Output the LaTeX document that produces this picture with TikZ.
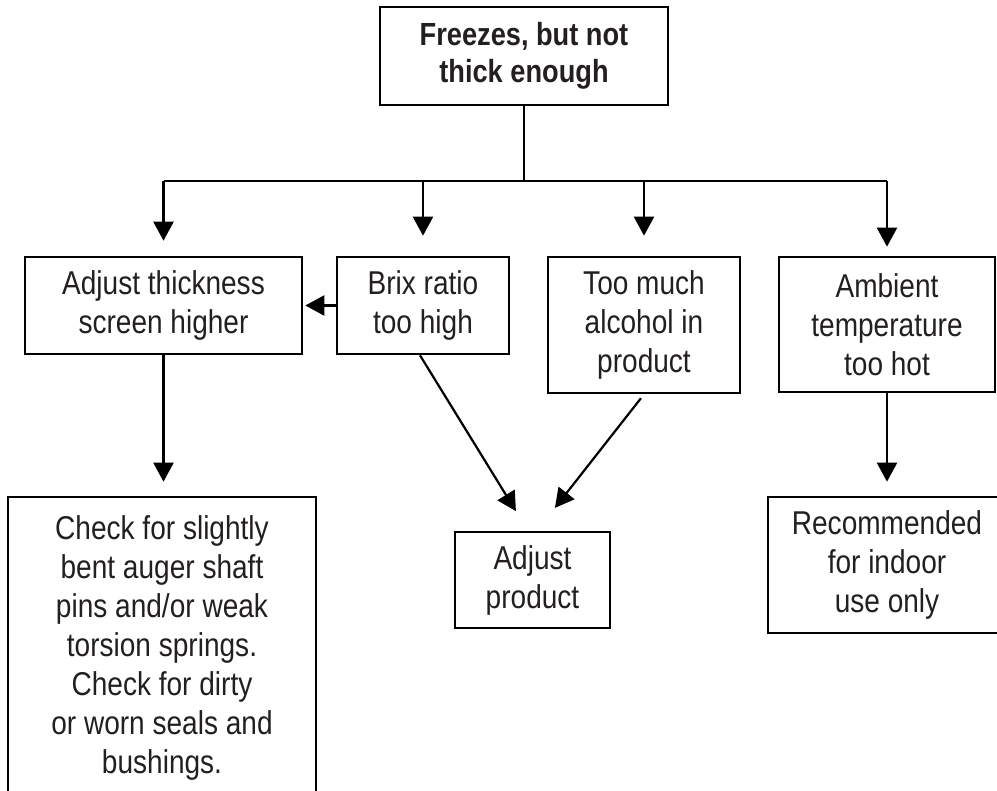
\documentclass[tikz,border=0pt]{standalone}
\usepackage{fontspec}
\setmainfont{Liberation Sans}[FakeStretch=0.85]
\usetikzlibrary{arrows.meta,calc}
\definecolor{ink}{RGB}{35,31,32}

\begin{document}
\begin{tikzpicture}
  [
    x=1pt, y=-1pt,
    box/.style={draw=black, line width=2.6pt, inner sep=0pt, align=center,
      text=ink, font=\fontsize{33}{39}\selectfont},
    link/.style={draw=black, line width=2.2pt},
    arr/.style={link, -{Triangle[width=20pt,length=19pt]}},
  ]

  \useasboundingbox (0,0) rectangle (997,791);
  \clip (0,0) rectangle (997,791);

  % top
  \node [box, minimum width=288pt, minimum height=98pt,
    font=\bfseries\fontsize{32}{37}\selectfont] (top) at (524,56)
    {Freezes, but not\\thick enough};

  % causes
  \node [box, minimum width=277pt, minimum height=97pt] (adjust) at (163.5,305.5)
    {Adjust thickness\\screen higher};
  \node [box, minimum width=172pt, minimum height=97pt] (brix) at (423,305.5)
    {Brix ratio\\too high};
  \node [box, minimum width=192pt, minimum height=136pt] (alcohol) at (644,325)
    {Too much\\alcohol in\\product};
  \node [box, minimum width=216pt, minimum height=135pt] (ambient) at (887,324.5)
    {Ambient\\temperature\\too hot};

  % remedies
  \node [box, minimum width=308pt, minimum height=302pt] (check) at (162,648)
    {Check for slightly\\bent auger shaft\\pins and/or weak\\torsion springs.\\Check for dirty\\or worn seals and\\bushings.};
  \node [box, minimum width=155pt, minimum height=96pt] (product) at (532.5,580)
    {Adjust\\product};
  \node [box, minimum width=238pt, minimum height=136pt] (indoor) at (887,565)
    {Recommended\\for indoor\\use only};

  % bus
  \coordinate (bus) at ($(top.south)+(0,75)$);
  \draw [link] (top.south) -- (bus);
  \draw [link] (adjust.north |- bus) -- (ambient.north |- bus);
  \draw [arr, shorten >=15pt] (adjust.north |- bus) -- (adjust.north);
  \draw [arr, shorten >=20pt] (brix.north |- bus) -- (brix.north);
  \draw [arr, shorten >=20pt] (alcohol.north |- bus) -- (alcohol.north);
  \draw [arr, shorten >=9pt] (ambient.north |- bus) -- (ambient.north);

  % links
  \draw [arr, shorten >=2pt] (brix.west) -- (adjust.east);
  \draw [arr, shorten >=14pt] (adjust.south) -- (adjust.south |- check.north);
  \draw [arr, shorten >=14pt] (ambient.south) -- (ambient.south |- indoor.north);
  \draw [arr, shorten >=23pt] ([xshift=-3pt]brix.south) -- ([xshift=-4.5pt]product.north);
  \draw [arr, shorten <=5pt, shorten >=29pt] (alcohol.south) -- ([xshift=4.5pt]product.north);

\end{tikzpicture}
\end{document}
